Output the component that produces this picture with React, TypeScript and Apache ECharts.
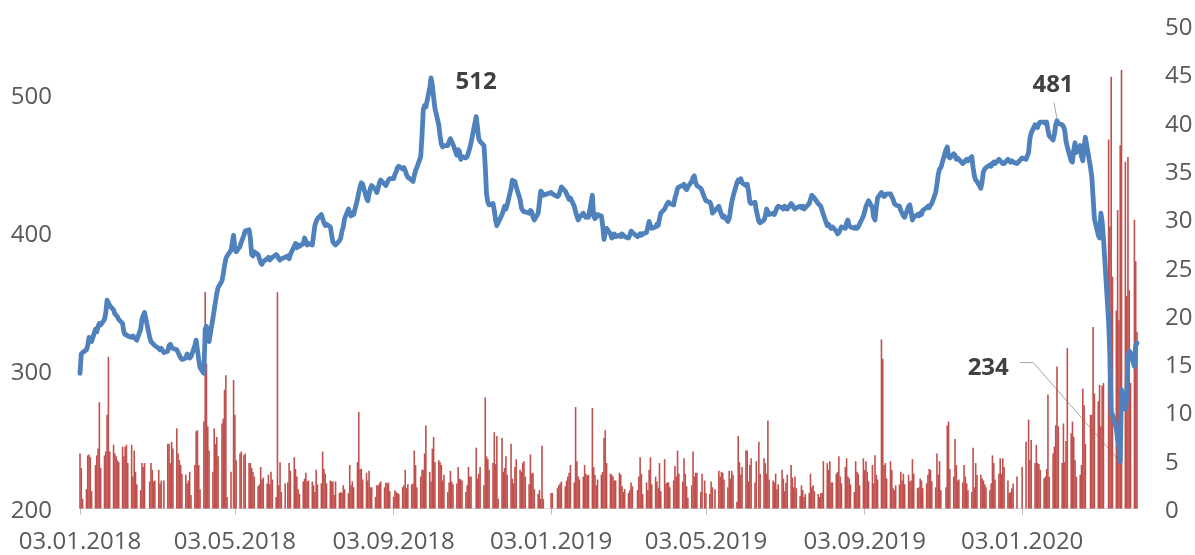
import React, { useEffect, useRef } from 'react';
import * as echarts from 'echarts';

// Exchange holidays (no trading) inside the charted period
const holidays = [
  '2018-02-23', '2018-03-08', '2018-05-01', '2018-05-09', '2018-06-12', '2018-11-05', '2018-12-31',
  '2019-01-01', '2019-01-02', '2019-01-07', '2019-03-08', '2019-05-01', '2019-05-09', '2019-06-12',
  '2019-11-04', '2019-12-31', '2020-01-01', '2020-01-02', '2020-01-07', '2020-02-24', '2020-03-09',
];
const firstDate = '2018-01-03';
const lastDate = '2020-04-01';

const tickDates = ['2018-01-03', '2018-05-03', '2018-09-03', '2019-01-03', '2019-05-03', '2019-09-03', '2020-01-03'];

// Close price (left axis), one array per month
const price2018 = [
  [298, 312, 313, 315, 318, 324, 323, 321, 330, 328, 332, 334, 333, 337, 342, 351, 349, 347, 344, 341, 340],
  [339, 337, 334, 328, 326, 326, 325, 324, 325, 324, 323, 322, 330, 337, 340, 342, 324, 321, 320],
  [319, 318, 316, 315, 316, 313, 314, 318, 319, 317, 316, 315, 313, 311, 309, 308, 309, 312, 311, 309, 310],
  [318, 322, 315, 308, 302, 298, 330, 332, 324, 321, 338, 344, 350, 356, 360, 365, 370, 376, 381, 383, 387],
  [398, 388, 386, 390, 393, 398, 401, 402, 396, 384, 383, 386, 384, 381, 378, 377, 379, 381, 382, 380, 381],
  [382, 384, 383, 381, 380, 381, 382, 383, 381, 384, 390, 392, 389, 391, 390, 392, 396, 394, 391, 392],
  [391, 398, 405, 408, 410, 413, 410, 407, 405, 406, 404, 398, 393, 392, 391, 394, 396, 401, 404, 410, 417, 414],
  [412, 414, 413, 424, 429, 433, 436, 435, 425, 423, 428, 432, 434, 431, 429, 432, 436, 438, 435, 434, 436, 438, 439],
  [439, 442, 444, 447, 448, 446, 447, 445, 442, 440, 438, 437, 441, 445, 447, 455, 470, 489, 492, 491],
  [505, 512, 507, 498, 490, 478, 470, 464, 462, 463, 463, 466, 468, 466, 464, 456, 460, 459, 453, 455, 454, 455, 458],
  [461, 465, 484, 476, 468, 466, 463, 448, 428, 422, 420, 421, 416, 409, 405, 407, 413, 416, 419, 417, 420],
  [432, 438, 436, 437, 433, 424, 418, 416, 415, 415, 414, 416, 415, 411, 409, 414, 422, 430, 429, 427],
];
const price2019 = [
  [429, 428, 426, 427, 430, 433, 430, 428, 426, 424, 425, 419, 415, 412, 409, 411, 414, 412, 411, 412],
  [411, 427, 412, 410, 411, 413, 412, 405, 395, 400, 403, 399, 396, 397, 399, 397, 398, 397, 399, 398],
  [397, 396, 398, 401, 400, 397, 398, 399, 398, 399, 400, 404, 408, 405, 403, 404, 406, 405, 410, 414],
  [417, 419, 421, 422, 421, 420, 425, 428, 432, 433, 434, 435, 432, 431, 433, 437, 440, 441, 436, 434, 432, 430],
  [425, 423, 422, 420, 414, 416, 419, 416, 413, 411, 412, 408, 410, 416, 422, 426, 436, 438, 437, 439, 436],
  [434, 435, 430, 422, 421, 422, 416, 408, 407, 409, 412, 417, 415, 413, 414, 413, 415, 418, 419],
  [418, 417, 419, 418, 417, 421, 420, 418, 417, 418, 419, 418, 419, 417, 418, 421, 424, 427, 426, 425, 421, 420, 419],
  [416, 413, 405, 406, 404, 403, 404, 401, 399, 400, 402, 404, 403, 407, 409, 405, 404, 403, 404, 403, 404, 406],
  [412, 415, 419, 421, 423, 418, 411, 409, 418, 425, 429, 428, 426, 427, 428, 428, 426, 424, 421, 420, 419],
  [416, 414, 412, 411, 419, 420, 415, 409, 411, 413, 412, 414, 413, 416, 418, 419, 418, 420, 421, 429, 435, 442, 446],
  [447, 460, 462, 455, 454, 457, 456, 453, 454, 453, 450, 451, 452, 453, 452, 455, 447, 441, 438, 437],
  [432, 437, 444, 446, 447, 449, 448, 450, 451, 450, 453, 452, 451, 450, 450, 453, 452, 451, 452, 451, 450],
];
const price2020 = [
  [454, 453, 458, 468, 472, 478, 477, 476, 479, 480, 480, 479, 480, 474, 470, 467, 471, 478, 481, 479],
  [478, 477, 474, 466, 462, 452, 451, 460, 465, 458, 463, 455, 452, 462, 469, 447, 440, 425, 410],
  [398, 396, 414, 408, 396, 335, 312, 270, 268, 258, 250, 245, 234, 286, 272, 280, 310, 314, 313, 303, 318],
  [320],
];

// Trading volume (right axis), one array per month
const vol2018 = [
  [5.7, 4.2, 1.0, 2.0, 5.5, 5.6, 5.3, 1.8, 4.5, 5.5, 6.2, 11.0, 4.2, 5.5, 5.9, 9.7, 15.7, 5.9, 6.6, 5.7, 5.4],
  [5.0, 4.8, 6.4, 5.4, 6.4, 6.6, 4.7, 6.6, 3.3, 6.0, 3.8, 2.5, 1.9, 4.7, 4.3, 4.7, 2.8, 4.7, 4.0],
  [2.8, 2.9, 4.0, 2.6, 2.9, 2.9, 6.7, 6.7, 4.7, 6.9, 6.2, 8.3, 5.7, 5.0, 4.5, 3.6, 3.5, 2.6, 2.9, 3.8, 1.4],
  [4.5, 8.0, 8.1, 4.5, 2.0, 9.0, 22.4, 15.0, 8.5, 6.0, 3.8, 8.3, 6.7, 7.4, 5.4, 8.8, 9.3, 12.3, 13.8, 1.2, 3.8],
  [13.3, 9.7, 5.0, 5.7, 5.9, 5.5, 5.7, 4.7, 4.7, 4.2, 3.8, 3.3, 2.3, 2.5, 4.3, 3.0, 3.2, 2.6, 3.5, 2.5, 3.8],
  [3.0, 1.2, 22.4, 2.4, 4.8, 1.7, 2.6, 2.7, 4.7, 3.9, 5.3, 4.1, 3.3, 2.0, 1.5, 2.8, 3.1, 3.7, 2.8, 2.9],
  [2.8, 2.4, 1.7, 4.0, 2.5, 2.6, 5.9, 4.1, 3.6, 2.6, 2.9, 2.8, 2.8, 1.4, 2.8, 1.6, 1.7, 1.6, 2.4, 2.0, 1.6, 4.5],
  [2.4, 2.8, 2.2, 4.8, 10.0, 4.1, 4.1, 3.0, 3.7, 2.9, 3.9, 2.2, 2.2, 1.2, 2.4, 2.4, 2.6, 2.8, 2.2, 2.7, 2.6, 2.7, 1.8],
  [1.2, 1.9, 1.7, 1.6, 1.5, 2.2, 2.4, 4.0, 2.1, 2.5, 2.5, 2.6, 6.0, 4.5, 2.2, 3.3, 4.0, 4.0, 5.7, 8.6],
  [3.8, 2.8, 6.2, 7.4, 4.8, 5.0, 4.8, 4.5, 2.9, 3.5, 1.7, 2.7, 3.9, 2.8, 2.5, 2.6, 4.3, 3.1, 3.0, 2.9, 1.7, 2.4, 4.3],
  [3.3, 3.3, 6.3, 3.1, 3.6, 4.3, 2.4, 11.5, 5.4, 5.1, 4.0, 4.7, 7.9, 4.6, 7.5, 1.0, 7.3, 3.8, 4.2, 5.4, 3.5],
  [6.7, 3.1, 2.6, 4.3, 5.1, 4.0, 3.8, 4.7, 4.9, 3.3, 2.5, 5.6, 3.6, 3.7, 2.0, 1.5, 1.9, 1.0, 6.5, 1.0],
];
const vol2019 = [
  [1.6, 1.6, 2.1, 2.4, 2.6, 2.8, 2.3, 2.9, 3.3, 3.7, 4.5, 2.7, 10.5, 4.9, 3.3, 3.0, 3.3, 4.5, 3.6, 3.4],
  [3.5, 10.4, 4.3, 3.5, 2.4, 3.0, 3.5, 3.8, 7.3, 8.1, 4.7, 3.6, 3.5, 3.3, 2.9, 2.9, 3.7, 3.5, 2.3, 1.7],
  [2.0, 1.6, 1.9, 2.7, 2.3, 1.9, 3.3, 5.3, 3.6, 1.5, 2.7, 1.9, 4.0, 5.3, 2.5, 3.3, 2.8, 2.1, 4.7, 1.8],
  [5.1, 2.6, 2.7, 2.7, 2.2, 2.9, 4.4, 3.3, 6.0, 3.6, 2.8, 5.2, 3.6, 2.3, 1.1, 2.4, 5.9, 3.3, 3.7, 3.7, 1.7, 3.6],
  [2.9, 1.6, 1.5, 2.8, 2.2, 2.0, 3.9, 3.3, 3.8, 3.7, 3.0, 2.2, 3.9, 3.1, 3.9, 3.5, 0.7, 7.5, 4.8, 3.5, 4.3],
  [6.0, 6.0, 2.8, 4.5, 5.2, 2.7, 4.9, 6.9, 3.6, 5.2, 4.7, 3.6, 9.1, 3.0, 2.9, 2.7, 3.6, 2.0, 2.5],
  [4.0, 3.1, 1.8, 2.7, 3.5, 4.5, 3.2, 2.2, 3.3, 2.1, 1.3, 2.4, 1.9, 1.2, 1.5, 1.6, 3.6, 2.2, 2.4, 1.8, 1.5, 1.2, 1.6],
  [1.6, 4.9, 4.7, 4.0, 4.9, 2.7, 2.7, 3.6, 3.8, 5.4, 3.3, 2.6, 4.3, 5.2, 3.3, 3.1, 2.5, 1.7, 4.9, 3.8, 3.6, 2.4],
  [5.2, 4.0, 4.9, 3.8, 2.8, 4.5, 2.6, 5.5, 3.5, 3.0, 17.5, 15.5, 4.5, 4.7, 3.1, 4.9, 4.0, 2.1, 1.9, 2.4, 2.5],
  [3.8, 2.9, 3.6, 2.5, 3.5, 2.8, 2.9, 5.1, 3.6, 2.1, 2.2, 3.1, 2.9, 2.1, 2.6, 3.5, 4.1, 4.0, 2.8, 2.2, 5.7, 3.5, 4.9],
  [1.9, 2.2, 8.6, 9.0, 4.1, 3.3, 7.2, 4.5, 2.9, 3.0, 2.7, 4.5, 3.3, 2.6, 1.9, 1.7, 6.3, 2.2, 4.7, 3.5],
  [3.5, 3.1, 2.9, 2.5, 2.2, 1.9, 2.6, 5.5, 4.7, 3.0, 3.6, 5.2, 3.6, 5.2, 4.3, 2.9, 1.6, 1.7, 2.1, 2.6, 3.3],
];
const vol2020 = [
  [4.3, 6.9, 9.2, 5.0, 7.1, 4.7, 6.6, 4.7, 4.6, 4.0, 3.1, 3.3, 4.1, 11.8, 3.3, 5.7, 6.4, 8.6, 14.7, 8.5],
  [4.7, 8.8, 4.8, 7.0, 16.6, 7.8, 9.0, 7.4, 5.0, 3.3, 3.5, 4.5, 12.4, 10.7, 6.7, 9.7, 9.7, 18.8, 11.9],
  [11.1, 12.8, 8.5, 12.7, 13.0, 38.2, 29.2, 44.7, 24.0, 20.5, 30.9, 19.5, 37.6, 45.4, 35.9, 22.0, 36.4, 22.6, 13.0, 29.9, 25.6],
  [18.3],
];

const annotations = [
  { date: '2018-10-02', value: 512, text: '512' },
  { date: '2020-01-30', value: 481, text: '481' },
  { date: '2020-03-19', value: 234, text: '234' },
];

const DAY = 86400000;
function toTs(s: string): number {
  const [y, m, d] = s.split('-').map(Number);
  return Date.UTC(y, m - 1, d);
}
function pad(n: number): string {
  return n < 10 ? '0' + n : String(n);
}
function iso(t: number): string {
  const d = new Date(t);
  return d.getUTCFullYear() + '-' + pad(d.getUTCMonth() + 1) + '-' + pad(d.getUTCDate());
}
function fmtDate(t: number): string {
  const d = new Date(t);
  return pad(d.getUTCDate()) + '.' + pad(d.getUTCMonth() + 1) + '.' + d.getUTCFullYear();
}

function buildData() {
  const byMonth: Record<string, number[]> = {};
  for (let t = toTs(firstDate); t <= toTs(lastDate); t += DAY) {
    const wd = new Date(t).getUTCDay();
    if (wd === 0 || wd === 6) continue;
    const k = iso(t);
    if (holidays.indexOf(k) >= 0) continue;
    const mk = k.slice(0, 7);
    (byMonth[mk] = byMonth[mk] || []).push(t);
  }
  const years: [number, number[][], number[][]][] = [
    [2018, price2018, vol2018],
    [2019, price2019, vol2019],
    [2020, price2020, vol2020],
  ];
  const line: [number, number][] = [];
  const bars: [number, number][] = [];
  years.forEach(([y, pr, vo]) => {
    pr.forEach((arr, mi) => {
      const days = byMonth[y + '-' + pad(mi + 1)] || [];
      const n = Math.min(days.length, arr.length, vo[mi].length);
      for (let i = 0; i < n; i++) {
        line.push([days[i], arr[i]]);
        bars.push([days[i], vo[mi][i]]);
      }
    });
  });
  return { line, bars };
}

export default function App() {
  const ref = useRef<HTMLDivElement>(null);
  useEffect(() => {
    if (!ref.current) return;
    const chart = echarts.init(ref.current, null, { renderer: 'svg' });
    const { line, bars } = buildData();
    const font = '"Open Sans", "Noto Sans", sans-serif';
    const labelColor = '#595959';
    const tickTs = tickDates.map(toTs);
    chart.setOption({
      animation: false,
      grid: { left: 80, right: 58, top: 25.5, bottom: 46.5, containLabel: false, outerBoundsMode: 'none' },
      xAxis: {
        type: 'value',
        min: toTs(firstDate),
        max: toTs(lastDate),
        axisLine: { show: true, lineStyle: { color: '#d9d9d9', width: 1 } },
        axisTick: { show: true, customValues: tickTs, length: 6, lineStyle: { color: '#bfbfbf' } },
        axisLabel: {
          customValues: tickTs,
          formatter: (v: number) => fmtDate(v),
          color: labelColor,
          fontSize: 24,
          fontFamily: font,
          margin: 19,
          hideOverlap: false,
          showMinLabel: true,
          showMaxLabel: true,
        },
        splitLine: { show: false },
      },
      yAxis: [
        {
          type: 'value',
          min: 200,
          max: 550,
          interval: 100,
          axisLine: { show: false },
          axisTick: { show: false },
          splitLine: { show: false },
          axisLabel: { color: labelColor, fontSize: 24, fontFamily: font, margin: 28, showMaxLabel: false },
        },
        {
          type: 'value',
          position: 'right',
          min: 0,
          max: 50,
          interval: 5,
          axisLine: { show: false },
          axisTick: { show: false },
          splitLine: { show: false },
          axisLabel: { color: labelColor, fontSize: 24, fontFamily: font, margin: 28 },
        },
      ],
      series: [
        {
          type: 'bar',
          yAxisIndex: 1,
          data: bars,
          barWidth: 1.6,
          barCategoryGap: '0%',
          barGap: '0%',
          itemStyle: { color: '#c0504d' },
          silent: true,
        },
        {
          type: 'line',
          yAxisIndex: 0,
          data: line,
          showSymbol: false,
          symbol: 'none',
          lineStyle: { color: '#4f81bd', width: 4.8, join: 'round', cap: 'round' },
          silent: true,
        },
      ],
    });

    const pts = annotations.map((a) =>
      chart.convertToPixel({ xAxisIndex: 0, yAxisIndex: 0 }, [toTs(a.date), a.value]) as number[]
    );
    const textStyle = (text: string) => ({
      text,
      fill: '#404040',
      fontSize: 24,
      fontWeight: 'bold',
      fontFamily: font,
      align: 'center',
      verticalAlign: 'middle',
    });
    const leader = { stroke: '#a6a6a6', lineWidth: 1, fill: null };
    const [p0, p1, p2] = pts;
    chart.setOption({
      graphic: [
        { type: 'text', x: p0[0] + 45, y: p0[1] + 2, style: textStyle(annotations[0].text), silent: true },
        { type: 'text', x: p1[0] - 4, y: p1[1] - 38, style: textStyle(annotations[1].text), silent: true },
        {
          type: 'polyline',
          shape: { points: [[p1[0] - 3, p1[1] - 18], [p1[0], p1[1] - 2]] },
          style: leader,
          silent: true,
        },
        { type: 'text', x: p2[0] - 132, y: p2[1] - 96, style: textStyle(annotations[2].text), silent: true },
        {
          type: 'polyline',
          shape: { points: [[p2[0] - 100, p2[1] - 99], [p2[0] - 87, p2[1] - 99], [p2[0] - 2, p2[1] - 2]] },
          style: leader,
          silent: true,
        },
      ],
    });

    return () => chart.dispose();
  }, []);
  return <div ref={ref} style={{ position: 'fixed', left: 0, top: 0, width: 1195, height: 555 }} />;
}
